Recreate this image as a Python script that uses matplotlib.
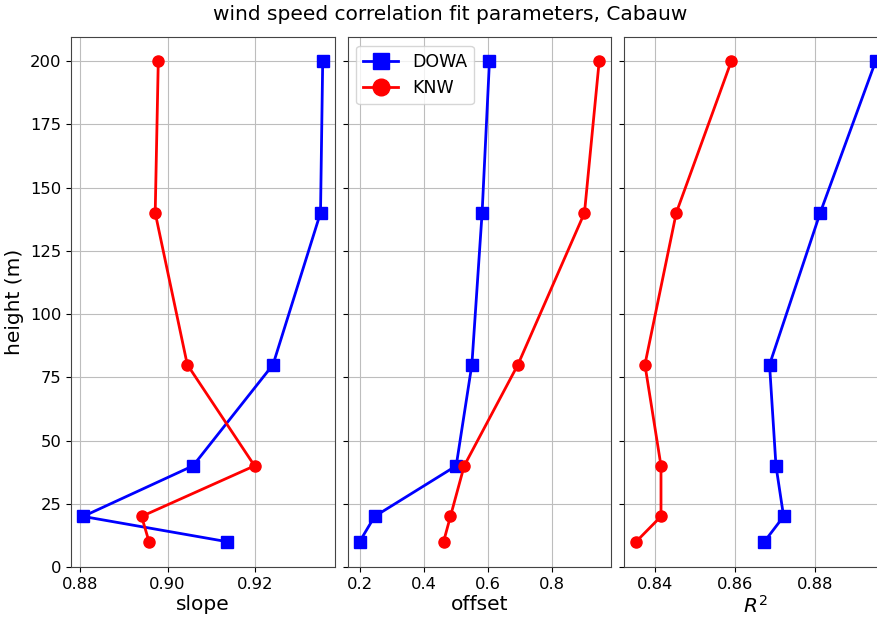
import numpy as np
import matplotlib
matplotlib.use('Agg')
import matplotlib.pyplot as plt

# heights (m)
height = [10, 20, 40, 80, 140, 200]

# fit parameters
slope_dowa = [0.9136, 0.8808, 0.9058, 0.9240, 0.9348, 0.9353]
slope_knw = [0.8958, 0.8941, 0.9198, 0.9045, 0.8972, 0.8979]
offset_dowa = [0.200, 0.247, 0.502, 0.551, 0.583, 0.606]
offset_knw = [0.4625, 0.484, 0.527, 0.695, 0.903, 0.949]
r2_dowa = [0.8673, 0.8721, 0.8702, 0.8686, 0.8812, 0.8950]
r2_knw = [0.8354, 0.8416, 0.8416, 0.8376, 0.8454, 0.8591]

xlabels = ['slope', 'offset', '$R^2$']

fig, axes = plt.subplots(1, 3, sharey=True, figsize=(8.78, 6.17), dpi=100)
plt.subplots_adjust(left=0.081, right=1.011, bottom=0.081, top=0.940, wspace=0.049)

data = [(slope_dowa, slope_knw), (offset_dowa, offset_knw), (r2_dowa, r2_knw)]
for ax, (dowa, knw), lab in zip(axes, data, xlabels):
    ax.plot(dowa, height, color='b', marker='s', ms=8, lw=2, label='DOWA')
    ax.plot(knw, height, color='r', marker='o', ms=8, lw=2, label='KNW')
    ax.grid(True, color='#bdbdbd', lw=0.8)
    ax.set_xlabel(lab, fontsize=14.5, labelpad=2)
    ax.tick_params(labelsize=11.8)
    for s in ax.spines.values():
        s.set_color('#444444')

axes[0].set_ylim(bottom=0)
axes[0].set_ylabel('height (m)', fontsize=14.5)
axes[0].set_xticks([0.88, 0.90, 0.92])
axes[1].set_xticks([0.2, 0.4, 0.6, 0.8])
axes[2].set_xticks([0.84, 0.86, 0.88])
axes[1].legend(loc='upper left', fontsize=12.5, markerscale=1.5)

fig.suptitle('wind speed correlation fit parameters, Cabauw', fontsize=14.5,
             x=0.5125, y=0.992, va='top')

plt.savefig('out.png', dpi=100)
